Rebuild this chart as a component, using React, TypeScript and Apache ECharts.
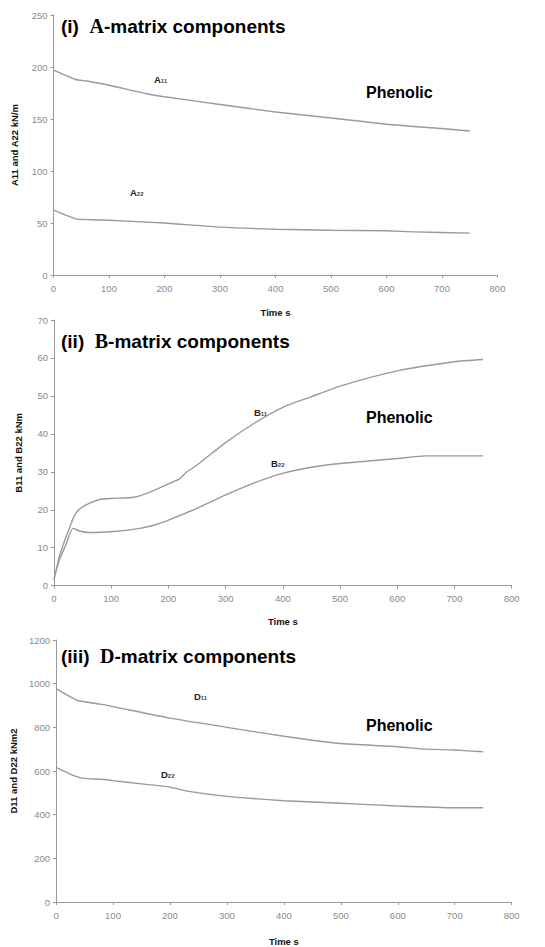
import React, { useEffect, useRef } from "react";
import * as echarts from "echarts";

const A_TIME = [0, 40, 60, 100, 170, 200, 300, 400, 500, 600, 700, 750];
const A11 = [197, 188, 186.5, 182.5, 174, 171.4, 164, 156.7, 151, 145, 140.8, 138.5];
const A22_TIME = [0, 40, 60, 100, 200, 300, 400, 500, 600, 650, 750];
const A22 = [62.3, 54, 53.3, 52.6, 50, 46, 44, 43, 42.5, 41.5, 40.3];

const B11_TIME = [0, 10, 31, 40, 55, 80, 100, 140, 170, 200, 220, 230, 250, 300, 350, 400, 450, 500, 600, 700, 750];
const B11 = [1.5, 8, 16.8, 19.5, 21.2, 22.7, 23, 23.3, 24.8, 26.8, 28.2, 29.7, 31.8, 37.7, 42.8, 47, 49.8, 52.6, 56.6, 59, 59.6];
const B22_TIME = [0, 10, 20, 33, 45, 60, 100, 150, 180, 200, 250, 300, 350, 400, 450, 500, 600, 650, 750];
const B22 = [2, 7, 10.5, 15.1, 14.4, 14, 14.2, 15.1, 16.2, 17.3, 20.4, 23.9, 27.1, 29.6, 31.2, 32.2, 33.5, 34.2, 34.2];

const D_TIME = [0, 35, 50, 80, 100, 200, 300, 400, 450, 500, 600, 650, 700, 750];
const D11 = [977, 926, 917, 905, 895, 842, 800, 759, 741, 726, 711, 700, 696, 688];
const D22_TIME = [0, 35, 50, 80, 100, 150, 200, 230, 300, 400, 500, 600, 700, 750];
const D22 = [617, 575, 566, 562, 556, 541, 526, 508, 484, 464, 452, 440, 432, 432];

const X_TICKS = [0, 100, 200, 300, 400, 500, 600, 700, 800];

const TITLES = [
  { num: "(i)", letter: "A" },
  { num: "(ii)", letter: "B" },
  { num: "(iii)", letter: "D" },
];
const Y_NAMES = ["A11 and A22 kN/m", "B11 and B22 kNm", "D11 and D22 kNm2"];

const pairs = (t: number[], v: number[]) => t.map((x, i) => [x, v[i]]);

export default function App() {
  const ref = useRef<HTMLDivElement>(null);
  useEffect(() => {
    if (!ref.current) return;
    const chart = echarts.init(ref.current, undefined, { renderer: "svg" });
    const grids = [
      { left: 53.5, top: 15, width: 444, height: 260 },
      { left: 54, top: 320, width: 457.7, height: 265.7 },
      { left: 55, top: 640, width: 456.7, height: 265.7 },
    ];
    const yCfg = [
      { max: 250, interval: 50, gap: 34 },
      { max: 70, interval: 10, gap: 31 },
      { max: 1200, interval: 200, gap: 38 },
    ];
    const xGap = [32, 31, 34];
    const axisLine = { lineStyle: { color: "#999", width: 1 } };
    const axisLabel = { color: "#8a8a8a", fontSize: 9.5, fontFamily: "Arial, Liberation Sans", margin: 8 };
    const nameStyle = { color: "#111", fontSize: 9.5, fontWeight: "bold", fontFamily: "Arial, Liberation Sans" };
    const lineStyle = { color: "#9a9a9a", width: 1.4 };
    const mk = (t: number[], v: number[], i: number) => ({
      type: "line",
      xAxisIndex: i,
      yAxisIndex: i,
      data: pairs(t, v),
      showSymbol: false,
      smooth: 0.2,
      lineStyle,
      silent: true,
    });
    const titleRich = {
      a: { fontFamily: "Arial, Liberation Sans", fontWeight: "bold", fontSize: 19, color: "#000" },
      b: { fontFamily: "Times New Roman, Liberation Serif", fontWeight: "bold", fontSize: 20, color: "#000" },
    };
    const titleTops = [16, 331, 646];
    const phenolicY = [93, 418, 726];
    const labels = [
      { m: "A", s: "11", x: 159, y: 80 },
      { m: "A", s: "22", x: 135, y: 193 },
      { m: "B", s: "11", x: 259, y: 413 },
      { m: "B", s: "22", x: 276, y: 464 },
      { m: "D", s: "11", x: 199, y: 697 },
      { m: "D", s: "22", x: 166, y: 775 },
    ];
    const graphic: any[] = [];
    phenolicY.forEach((y) => {
      graphic.push({
        type: "text",
        left: 366,
        top: y - 9,
        style: { text: "Phenolic", font: "bold 16px Arial, Liberation Sans", fill: "#000" },
      });
    });
    labels.forEach((l) => {
      graphic.push({
        type: "text",
        left: l.x - 5,
        top: l.y - 6,
        style: {
          text: `{m|${l.m}}{s|${l.s}}`,
          rich: {
            m: { font: "bold 9.5px Arial, Liberation Sans", fill: "#222" },
            s: { font: "bold 6px Arial, Liberation Sans", fill: "#444", padding: [4, 0, 0, 0] },
          },
        },
      });
    });
    chart.setOption({
      animation: false,
      grid: grids,
      title: TITLES.map((t, i) => ({
        left: 61,
        top: titleTops[i],
        text: `{a|${t.num}  }{b|${t.letter}}{a|-matrix components}`,
        textStyle: { rich: titleRich },
        padding: 0,
      })),
      xAxis: grids.map((_, i) => ({
        type: "value",
        gridIndex: i,
        min: X_TICKS[0],
        max: X_TICKS[X_TICKS.length - 1],
        interval: 100,
        name: "Time s",
        nameLocation: "middle",
        nameGap: xGap[i],
        nameTextStyle: nameStyle,
        axisLine,
        axisTick: { show: true, length: 3, lineStyle: { color: "#999" } },
        axisLabel,
        splitLine: { show: false },
      })),
      yAxis: grids.map((_, i) => ({
        type: "value",
        gridIndex: i,
        min: 0,
        max: yCfg[i].max,
        interval: yCfg[i].interval,
        name: Y_NAMES[i],
        nameLocation: "middle",
        nameRotate: 90,
        nameGap: yCfg[i].gap,
        nameTextStyle: nameStyle,
        axisLine: { show: true, ...axisLine },
        axisTick: { show: true, length: 3, lineStyle: { color: "#999" } },
        axisLabel: { ...axisLabel, margin: 6, formatter: (v: number) => String(v) },
        splitLine: { show: false },
      })),
      series: [
        mk(A_TIME, A11, 0),
        mk(A22_TIME, A22, 0),
        mk(B11_TIME, B11, 1),
        mk(B22_TIME, B22, 1),
        mk(D_TIME, D11, 2),
        mk(D22_TIME, D22, 2),
      ],
      graphic,
    });
    return () => chart.dispose();
  }, []);
  return (
    <div
      ref={ref}
      style={{ position: "fixed", left: 0, top: 0, width: 545, height: 947, background: "#fff" }}
    />
  );
}
